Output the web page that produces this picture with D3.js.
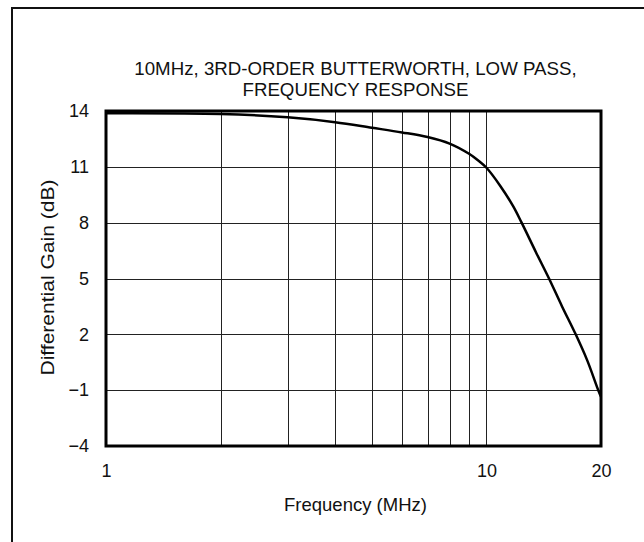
<!DOCTYPE html>
<html>
<head>
<meta charset="utf-8">
<script src="https://cdn.jsdelivr.net/npm/d3@7/dist/d3.min.js"></script>
<style>
  html, body { margin: 0; padding: 0; background: #fff; }
  svg { display: block; font-family: "Liberation Sans", Arial, sans-serif; }
</style>
</head>
<body>
<svg id="chart" width="644" height="542"></svg>
<script>
// Frequency response of a 10MHz 3rd-order Butterworth low-pass stage
const freqMHz = [1, 2, 3, 4, 5, 6, 7, 8, 9, 9.5, 10, 10.85, 11.74, 12.37, 13.5, 14.6, 15.8, 17.16, 18.4, 19.67, 20];
const gainDb  = [13.88, 13.84, 13.66, 13.4, 13.1, 12.85, 12.6, 12.25, 11.7, 11.35, 10.95, 10.0, 8.9, 8.0, 6.4, 5.0, 3.5, 2.0, 0.6, -1.0, -1.35];

const yTicks = [14, 11, 8, 5, 2, -1, -4];
const xTicks = [1, 10, 20];
const xGrid  = [2, 3, 4, 5, 6, 7, 8, 9, 10];

const titleLines = ["10MHz, 3RD-ORDER BUTTERWORTH, LOW PASS,", "FREQUENCY RESPONSE"];
const xTitle = "Frequency (MHz)";
const yTitle = "Differential Gain (dB)";

const svg = d3.select("#chart");
const plot = { left: 106, right: 601, top: 111, bottom: 446 };
const ink = "#111";

const x = d3.scaleLog().domain([1, 20]).range([plot.left, plot.right]);
const y = d3.scaleLinear().domain([-4, 14]).range([plot.bottom, plot.top]);

const fmt = v => (v < 0 ? "\u2212" + Math.abs(v) : String(v));

// outer frame (continues past the right and bottom edges of the page)
svg.append("rect")
  .attr("x", 12).attr("y", 8)
  .attr("width", 700).attr("height", 600)
  .attr("fill", "none").attr("stroke", ink).attr("stroke-width", 2);

// title
svg.append("g").selectAll("text").data(titleLines).join("text")
  .attr("x", (plot.left + plot.right) / 2 + 2)
  .attr("y", (d, i) => 75 + i * 21)
  .attr("text-anchor", "middle")
  .attr("font-size", 18.7)
  .attr("fill", ink)
  .text(d => d);

// grid
const grid = svg.append("g").attr("stroke", "#222").attr("stroke-width", 1).attr("shape-rendering", "crispEdges");
grid.selectAll("line.v").data(xGrid).join("line")
  .attr("class", "v")
  .attr("x1", d => Math.round(x(d)) + 0.5).attr("x2", d => Math.round(x(d)) + 0.5)
  .attr("y1", plot.top).attr("y2", plot.bottom);
grid.selectAll("line.h").data(yTicks.filter(v => v !== 14 && v !== -4)).join("line")
  .attr("class", "h")
  .attr("x1", plot.left).attr("x2", plot.right)
  .attr("y1", d => Math.round(y(d)) + 0.5).attr("y2", d => Math.round(y(d)) + 0.5);

// response curve
const line = d3.line()
  .x((d, i) => x(freqMHz[i]))
  .y(d => y(d))
  .curve(d3.curveCatmullRom.alpha(0.5));
svg.append("path")
  .datum(gainDb)
  .attr("d", line)
  .attr("fill", "none")
  .attr("stroke", "#000")
  .attr("stroke-width", 2.5)
  .attr("stroke-linejoin", "round");

// plot border
svg.append("rect")
  .attr("x", plot.left).attr("y", plot.top)
  .attr("width", plot.right - plot.left).attr("height", plot.bottom - plot.top)
  .attr("fill", "none").attr("stroke", "#000").attr("stroke-width", 3);

// y axis labels
const yAxis = d3.axisLeft(y).tickValues(yTicks).tickFormat(fmt).tickSize(0).tickPadding(17);
const gy = svg.append("g").attr("transform", `translate(${plot.left},0)`).call(yAxis);
gy.select(".domain").remove();
gy.selectAll("text").attr("font-size", 18).attr("fill", ink).attr("font-family", "Liberation Sans, Arial, sans-serif");

// x axis labels
const xAxis = d3.axisBottom(x).tickValues(xTicks).tickFormat(d => String(d)).tickSize(0).tickPadding(18);
const gx = svg.append("g").attr("transform", `translate(0,${plot.bottom})`).call(xAxis);
gx.select(".domain").remove();
gx.selectAll("text").attr("font-size", 18).attr("fill", ink).attr("font-family", "Liberation Sans, Arial, sans-serif");

// axis titles
svg.append("text")
  .attr("x", (plot.left + plot.right) / 2 + 2).attr("y", 511)
  .attr("text-anchor", "middle").attr("font-size", 18.5).attr("fill", ink)
  .text(xTitle);
svg.append("text")
  .attr("transform", `translate(54,${(plot.top + plot.bottom) / 2 - 1}) rotate(-90)`)
  .attr("text-anchor", "middle").attr("font-size", 18.5).attr("fill", ink)
  .attr("textLength", 196).attr("lengthAdjust", "spacingAndGlyphs")
  .text(yTitle);
</script>
</body>
</html>
